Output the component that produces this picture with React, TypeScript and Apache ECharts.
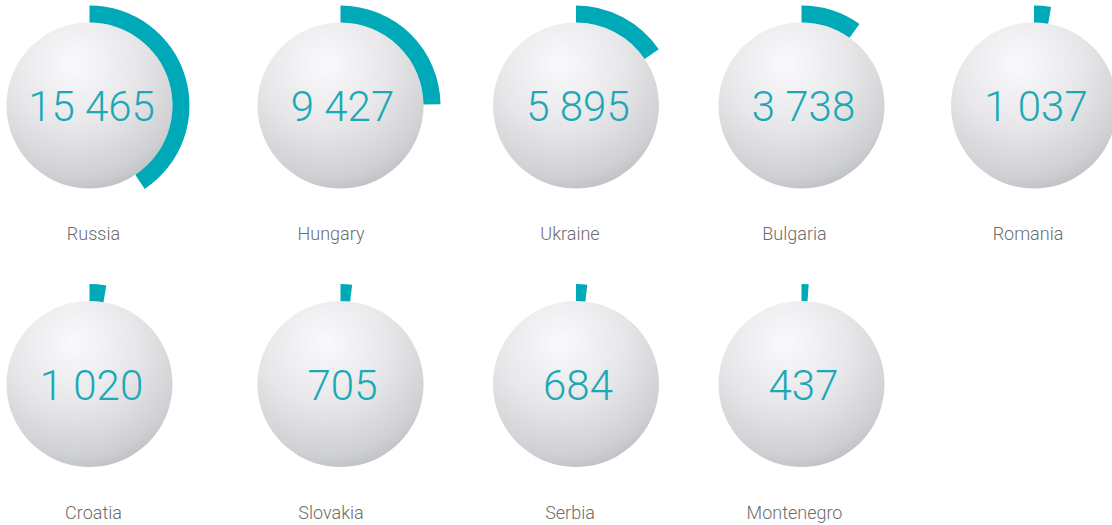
import React, { useEffect, useRef } from "react";
import * as echarts from "echarts";

const countries = ["Russia", "Hungary", "Ukraine", "Bulgaria", "Romania", "Croatia", "Slovakia", "Serbia", "Montenegro"];
const values = [15465, 9427, 5895, 3738, 1037, 1020, 705, 684, 437];
const scaleMax = 38000;

const centersX = [89.5, 340.5, 576, 801.5, 1034];
const rowsY = [105.5, 384];
const labelX = [93.5, 331, 570, 794.5, 1028];

const ARC = "#00a9b8";
const NUM = "#1ba8b7";

function fmt(v: number) {
  return String(v).replace(/\B(?=(\d{3})+(?!\d))/g, " ");
}

export default function App() {
  const ref = useRef<HTMLDivElement>(null);
  useEffect(() => {
    if (!ref.current) return;
    const chart = echarts.init(ref.current, null, { renderer: "svg" });
    const series: any[] = [];
    countries.forEach((name, i) => {
      const col = i < 5 ? i : i - 5;
      const row = i < 5 ? 0 : 1;
      const cx = centersX[col];
      const cy = rowsY[row];
      series.push({
        type: "pie",
        silent: true,
        z: 1,
        center: [cx, cy],
        radius: [0, 83],
        label: { show: false },
        labelLine: { show: false },
        emphasis: { disabled: true },
        data: [
          {
            value: 1,
            name: name + "-sphere",
            itemStyle: {
              color: new echarts.graphic.RadialGradient(0.41, 0.25, 0.85, [
                { offset: 0, color: "#faf9fb" },
                { offset: 0.45, color: "#e7e7e9" },
                { offset: 0.8, color: "#cfd0d3" },
                { offset: 1, color: "#b4b5b9" },
              ]),
            },
          },
        ],
      });
      series.push({
        type: "gauge",
        z: 3,
        center: [cx, cy],
        radius: 100,
        startAngle: 90,
        endAngle: -270,
        min: 0,
        max: scaleMax,
        axisLine: { show: false },
        axisTick: { show: false },
        splitLine: { show: false },
        axisLabel: { show: false },
        pointer: { show: false },
        anchor: { show: false },
        progress: { show: true, width: 17, roundCap: false, itemStyle: { color: ARC } },
        title: {
          show: true,
          offsetCenter: [labelX[col] - cx, 128],
          color: "#6c6c6c",
          fontSize: 18,
          fontFamily: "Roboto",
          fontWeight: 300,
        },
        detail: {
          show: true,
          offsetCenter: [2, 1],
          color: NUM,
          fontSize: 42,
          fontFamily: "Roboto",
          fontWeight: 300,
          formatter: (v: number) => fmt(v),
          valueAnimation: false,
        },
        data: [{ value: values[i], name }],
      });
    });
    chart.setOption({
      animation: false,
      backgroundColor: "#ffffff",
      series,
    });
    return () => chart.dispose();
  }, []);
  return (
    <div
      ref={ref}
      style={{ position: "absolute", left: 0, top: 0, width: 1112, height: 525 }}
    />
  );
}
